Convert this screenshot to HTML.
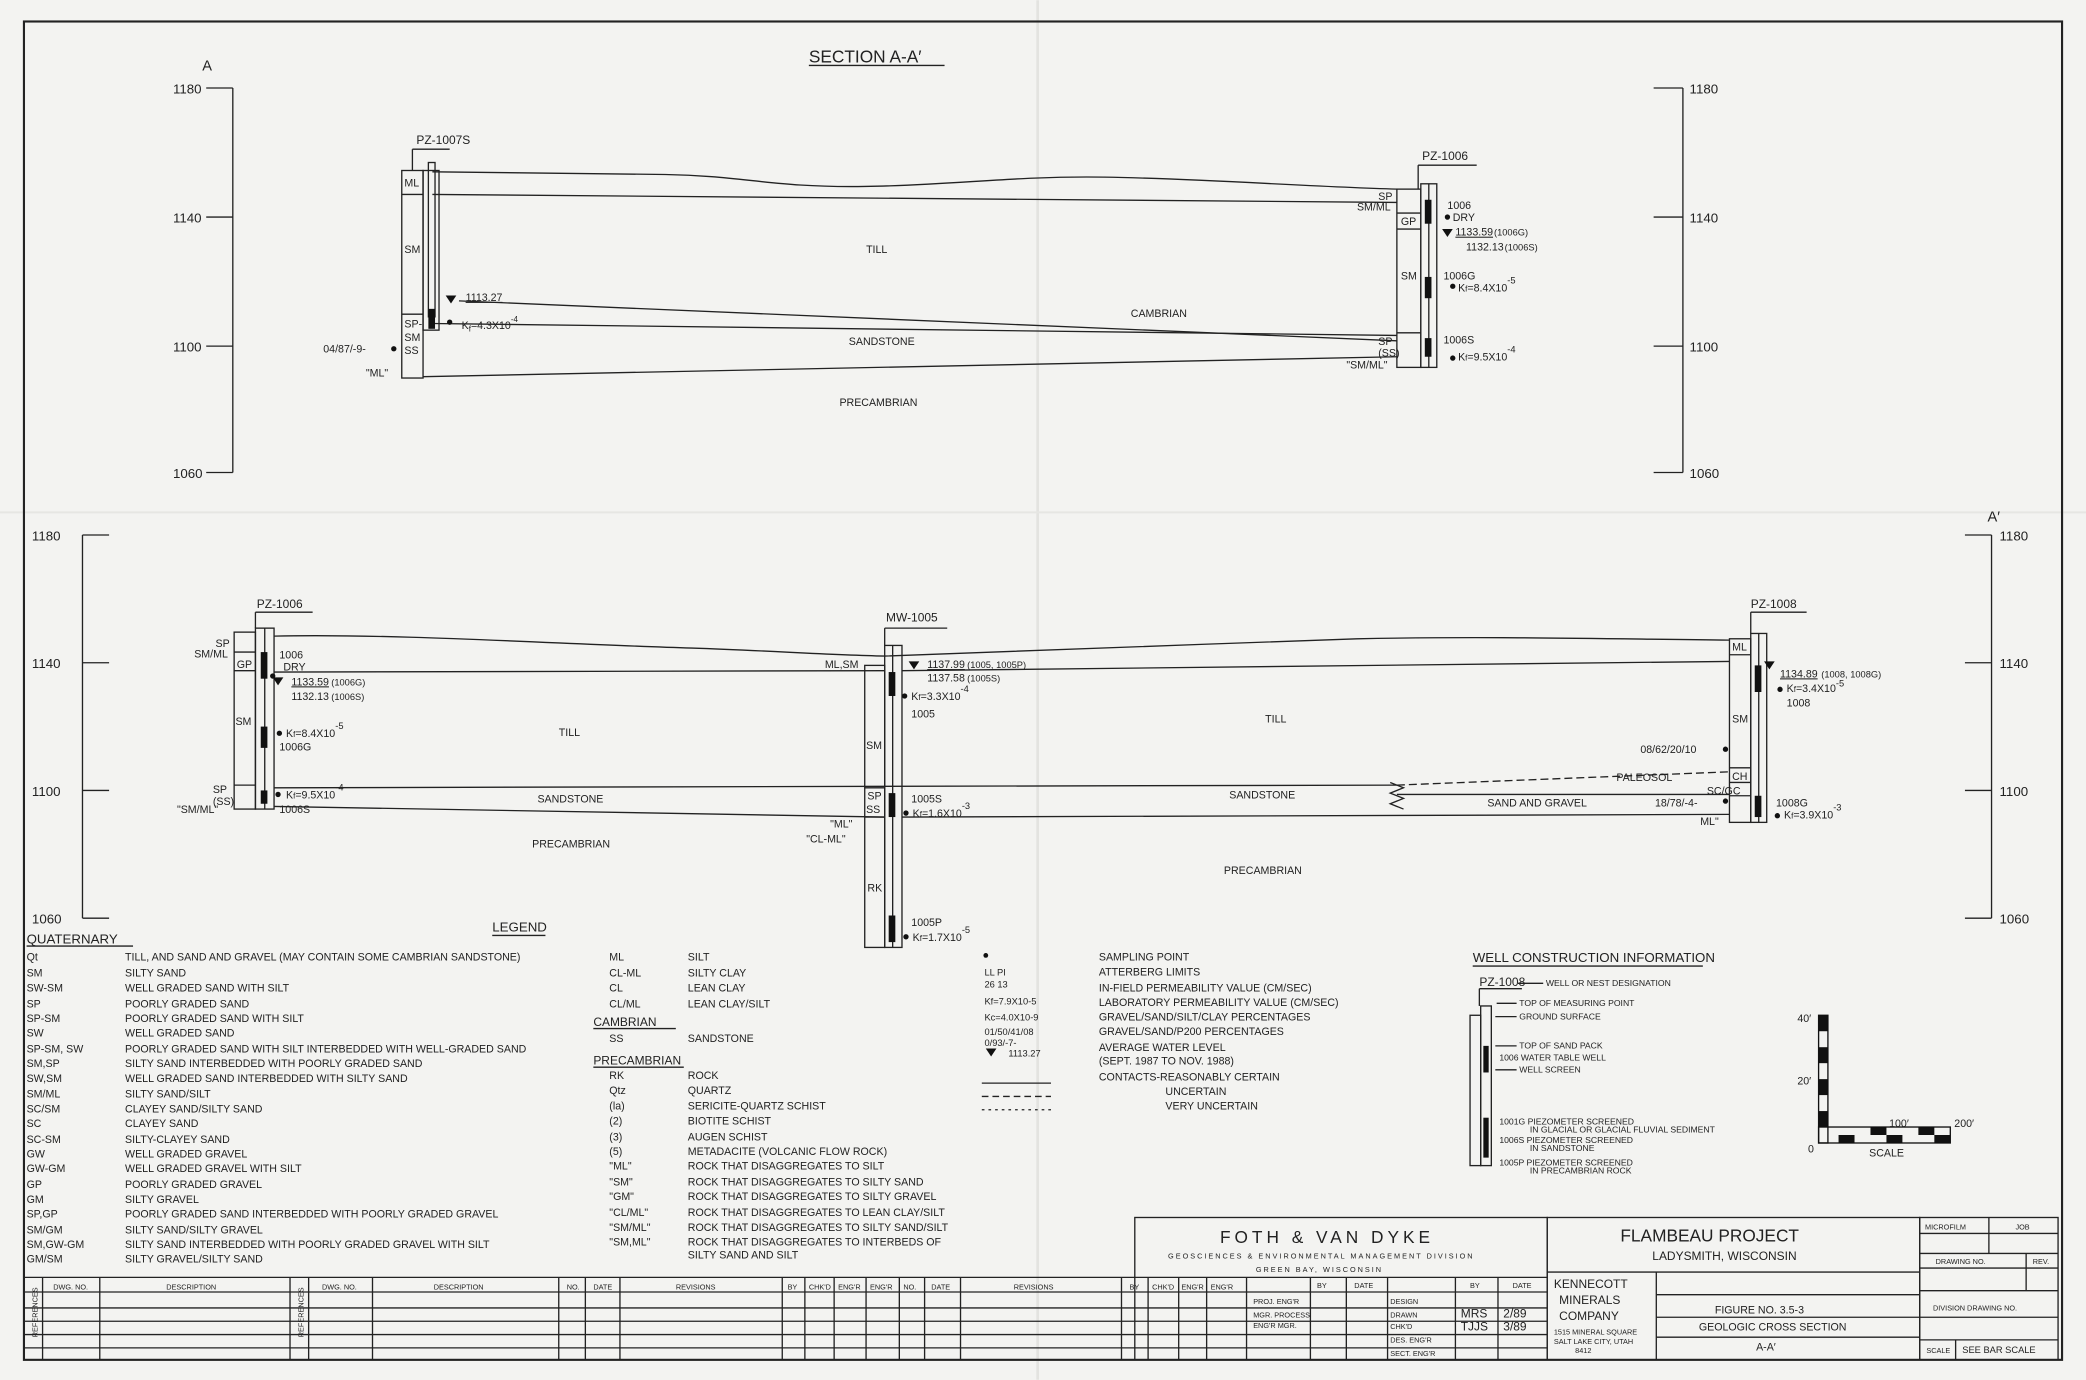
<!DOCTYPE html>
<html><head><meta charset="utf-8"><style>
html,body{margin:0;padding:0;background:#f3f3f1;}
svg{display:block}
text{font-family:"Liberation Sans",sans-serif;fill:#222;}
</style></head><body>
<svg width="2086" height="1380" viewBox="0 0 1568 1037" xmlns="http://www.w3.org/2000/svg">
<rect width="1568" height="1037" fill="#f3f3f1"/>
<line x1="780" y1="0" x2="780" y2="1037" stroke="#e3e3e0" stroke-width="2"/>
<line x1="0" y1="385" x2="1568" y2="385" stroke="#e6e6e3" stroke-width="1.5"/>
<rect x="18" y="16" width="1532" height="1006" fill="none" stroke="#222" stroke-width="1.6"/>
<g stroke="#222" stroke-width="1" fill="none">
<line x1="175" y1="66" x2="175" y2="355"/>
<line x1="155" y1="66" x2="175" y2="66"/><line x1="155" y1="163" x2="175" y2="163"/><line x1="155" y1="260" x2="175" y2="260"/><line x1="155" y1="355" x2="175" y2="355"/>
<line x1="1265" y1="66" x2="1265" y2="355"/>
<line x1="1243" y1="66" x2="1265" y2="66"/><line x1="1243" y1="163" x2="1265" y2="163"/><line x1="1243" y1="260" x2="1265" y2="260"/><line x1="1243" y1="355" x2="1265" y2="355"/>
<line x1="62" y1="402" x2="62" y2="690"/>
<line x1="62" y1="402" x2="82" y2="402"/><line x1="62" y1="498" x2="82" y2="498"/><line x1="62" y1="594" x2="82" y2="594"/><line x1="62" y1="690" x2="82" y2="690"/>
<line x1="1497" y1="402" x2="1497" y2="690"/>
<line x1="1477" y1="402" x2="1497" y2="402"/><line x1="1477" y1="498" x2="1497" y2="498"/><line x1="1477" y1="594" x2="1497" y2="594"/><line x1="1477" y1="690" x2="1497" y2="690"/>
<path d="M325 129 L500 131 C560 132 580 141 650 140 C720 139 760 132 830 133 C900 134 980 140 1050 142"/>
<line x1="325" y1="146" x2="1050" y2="152"/>
<line x1="345" y1="226" x2="1050" y2="256"/>
<line x1="325" y1="243" x2="1050" y2="252"/>
<line x1="318" y1="283" x2="1050" y2="268"/>
<rect x="302" y="128" width="16" height="156"/>
<line x1="302" y1="146" x2="318" y2="146"/><line x1="302" y1="236" x2="318" y2="236"/>
<rect x="318" y="128" width="12" height="120"/>
<rect x="322" y="122" width="5" height="116"/>
<line x1="310" y1="112" x2="310" y2="128"/><line x1="310" y1="112" x2="338" y2="112"/>
<rect x="1050" y="142" width="18" height="134"/>
<line x1="1050" y1="160" x2="1068" y2="160"/><line x1="1050" y1="172" x2="1068" y2="172"/><line x1="1050" y1="250" x2="1068" y2="250"/>
<rect x="1068" y="138" width="12" height="138"/>
<line x1="1074" y1="138" x2="1074" y2="276"/>
<line x1="1066" y1="124" x2="1110" y2="124"/><line x1="1066" y1="124" x2="1066" y2="142"/>
<path d="M206 478 C300 476 420 484 520 487 C580 489 620 492 665 493 C760 490 900 484 1020 480 C1120 478 1200 480 1300 481"/>
<line x1="206" y1="505" x2="665" y2="504"/>
<line x1="678" y1="504" x2="1300" y2="497"/>
<line x1="206" y1="592" x2="1050" y2="590"/>
<path d="M1050 590 L1300 580" stroke-dasharray="6 3"/>
<line x1="1050" y1="597" x2="1300" y2="597"/>
<line x1="206" y1="606" x2="665" y2="614"/>
<line x1="678" y1="614" x2="1300" y2="612"/>
<rect x="176" y="475" width="16" height="133"/>
<line x1="176" y1="490" x2="192" y2="490"/><line x1="176" y1="504" x2="192" y2="504"/><line x1="176" y1="590" x2="192" y2="590"/>
<rect x="192" y="472" width="14" height="136"/>
<line x1="199" y1="472" x2="199" y2="608"/>
<line x1="192" y1="460" x2="235" y2="460"/><line x1="192" y1="460" x2="192" y2="472"/>
<rect x="650" y="500" width="15" height="212"/>
<line x1="650" y1="592" x2="665" y2="592"/><line x1="650" y1="614" x2="665" y2="614"/>
<rect x="665" y="485" width="13" height="227"/>
<line x1="671" y1="485" x2="671" y2="712"/>
<line x1="665" y1="472" x2="712" y2="472"/><line x1="665" y1="472" x2="665" y2="485"/>
<rect x="1300" y="480" width="16" height="138"/>
<line x1="1300" y1="492" x2="1316" y2="492"/><line x1="1300" y1="577" x2="1316" y2="577"/><line x1="1300" y1="588" x2="1316" y2="588"/><line x1="1300" y1="598" x2="1316" y2="598"/>
<rect x="1316" y="476" width="12" height="142"/>
<line x1="1322" y1="476" x2="1322" y2="618"/>
<line x1="1316" y1="460" x2="1358" y2="460"/><line x1="1316" y1="460" x2="1316" y2="476"/>
<path d="M1045 588 l10 4 l-10 4 l10 4 l-10 4 l10 4" />
<line x1="20" y1="711" x2="100" y2="711"/><line x1="370" y1="703" x2="410" y2="703"/>
<line x1="446" y1="773" x2="508" y2="773"/><line x1="446" y1="802" x2="514" y2="802"/>
<line x1="738" y1="814" x2="790" y2="814"/><line x1="738" y1="824" x2="790" y2="824" stroke-dasharray="5 3"/><line x1="738" y1="834" x2="790" y2="834" stroke-dasharray="2 3"/>
<line x1="1107" y1="726" x2="1280" y2="726"/>
<line x1="608" y1="49" x2="710" y2="49"/>
<line x1="1112" y1="743" x2="1144" y2="743"/>
<line x1="1112" y1="743" x2="1112" y2="756"/>
<rect x="1105" y="763" width="8" height="113"/><rect x="1113" y="756" width="8" height="120"/>
<line x1="1141" y1="739" x2="1160" y2="739"/><line x1="1125" y1="754" x2="1140" y2="754"/><line x1="1124" y1="764" x2="1140" y2="764"/><line x1="1124" y1="786" x2="1140" y2="786"/><line x1="1124" y1="804" x2="1140" y2="804"/>
<rect x="853" y="915" width="310" height="107"/>
<line x1="853" y1="960" x2="1163" y2="960"/>
<rect x="1163" y="915" width="280" height="107"/>
<line x1="1163" y1="956" x2="1443" y2="956"/>
<line x1="1245" y1="956" x2="1245" y2="1022"/>
<line x1="1245" y1="973" x2="1443" y2="973"/><line x1="1245" y1="990" x2="1443" y2="990"/><line x1="1245" y1="1005" x2="1443" y2="1005"/>
<rect x="1443" y="915" width="104" height="107"/>
<line x1="1443" y1="927" x2="1547" y2="927"/><line x1="1495" y1="915" x2="1495" y2="942"/>
<line x1="1443" y1="942" x2="1547" y2="942"/><line x1="1443" y1="953" x2="1547" y2="953"/><line x1="1523" y1="942" x2="1523" y2="970"/>
<line x1="1443" y1="970" x2="1547" y2="970"/><line x1="1443" y1="990" x2="1547" y2="990"/><line x1="1443" y1="1007" x2="1547" y2="1007"/><line x1="1470" y1="1007" x2="1470" y2="1022"/>
<line x1="18" y1="960" x2="853" y2="960"/>
<line x1="18" y1="971" x2="1163" y2="971"/>
<line x1="18" y1="983" x2="1163" y2="983"/><line x1="18" y1="993" x2="1163" y2="993"/><line x1="18" y1="1003" x2="1163" y2="1003"/><line x1="18" y1="1013" x2="1163" y2="1013"/>
<g>
<line x1="32" y1="960" x2="32" y2="1022"/><line x1="75" y1="960" x2="75" y2="1022"/><line x1="218" y1="960" x2="218" y2="1022"/>
<line x1="232" y1="960" x2="232" y2="1022"/><line x1="280" y1="960" x2="280" y2="1022"/><line x1="420" y1="960" x2="420" y2="1022"/>
<line x1="440" y1="960" x2="440" y2="1022"/><line x1="466" y1="960" x2="466" y2="1022"/><line x1="588" y1="960" x2="588" y2="1022"/>
<line x1="605" y1="960" x2="605" y2="1022"/><line x1="627" y1="960" x2="627" y2="1022"/><line x1="651" y1="960" x2="651" y2="1022"/>
<line x1="676" y1="960" x2="676" y2="1022"/><line x1="695" y1="960" x2="695" y2="1022"/><line x1="722" y1="960" x2="722" y2="1022"/>
<line x1="843" y1="960" x2="843" y2="1022"/><line x1="863" y1="960" x2="863" y2="1022"/><line x1="886" y1="960" x2="886" y2="1022"/><line x1="907" y1="960" x2="907" y2="1022"/><line x1="937" y1="960" x2="937" y2="1022"/>
<line x1="985" y1="960" x2="985" y2="1022"/><line x1="1012" y1="960" x2="1012" y2="1022"/><line x1="1043" y1="960" x2="1043" y2="1022"/><line x1="1094" y1="960" x2="1094" y2="1022"/><line x1="1126" y1="960" x2="1126" y2="1022"/>
</g>
</g>
<g fill="#111">
<rect x="322" y="232" width="5" height="15"/>
<rect x="1071" y="150" width="5" height="18"/><rect x="1071" y="208" width="5" height="16"/><rect x="1071" y="254" width="5" height="14"/>
<rect x="196" y="490" width="5" height="20"/><rect x="196" y="546" width="5" height="16"/><rect x="196" y="594" width="5" height="10"/>
<rect x="668" y="505" width="5" height="18"/><rect x="668" y="596" width="5" height="18"/><rect x="668" y="688" width="5" height="20"/>
<rect x="1319" y="500" width="5" height="20"/><rect x="1319" y="598" width="5" height="16"/>
<rect x="1115" y="786" width="4" height="20"/><rect x="1115" y="840" width="4" height="30"/>
<rect x="1367" y="763" width="7" height="12"/><rect x="1367" y="787" width="7" height="12"/><rect x="1367" y="811" width="7" height="12"/><rect x="1367" y="835" width="7" height="12"/>
<rect x="1382" y="853" width="12" height="6"/><rect x="1406" y="847" width="12" height="6"/><rect x="1418" y="853" width="12" height="6"/><rect x="1442" y="847" width="12" height="6"/><rect x="1454" y="853" width="12" height="6"/>
<circle cx="296" cy="262" r="2"/><circle cx="338" cy="242" r="2"/><circle cx="1088" cy="163" r="2"/><circle cx="1092" cy="215" r="2"/><circle cx="1092" cy="269" r="2"/>
<circle cx="205" cy="508" r="2"/><circle cx="210" cy="551" r="2"/><circle cx="209" cy="597" r="2"/><circle cx="680" cy="523" r="2"/><circle cx="681" cy="611" r="2"/><circle cx="681" cy="704" r="2"/>
<circle cx="1297" cy="563" r="2"/><circle cx="1338" cy="518" r="2"/><circle cx="1336" cy="613" r="2"/><circle cx="1297" cy="602" r="2"/>
<circle cx="741" cy="718" r="1.8"/>
</g>
<rect x="1367" y="763" width="7" height="96" fill="none" stroke="#111"/><rect x="1367" y="847" width="99" height="12" fill="none" stroke="#111"/>
<g fill="#111"><path d="M335 222 h8 l-4 6z"/><path d="M1084 172 h8 l-4 6z"/><path d="M205 509 h8 l-4 6z"/><path d="M683 497 h8 l-4 6z"/><path d="M1326 497 h8 l-4 6z"/><path d="M741 788 h8 l-4 6z"/></g>

<g font-size="10">
<text x="608" y="47" font-size="13">SECTION A-A′</text>
<text x="152" y="53" font-size="11">A</text><text x="1494" y="392" font-size="11">A′</text>
<text x="130" y="70">1180</text><text x="130" y="167">1140</text><text x="130" y="264">1100</text><text x="130" y="359">1060</text>
<text x="1270" y="70">1180</text><text x="1270" y="167">1140</text><text x="1270" y="264">1100</text><text x="1270" y="359">1060</text>
<text x="24" y="406">1180</text><text x="24" y="502">1140</text><text x="24" y="598">1100</text><text x="24" y="694">1060</text>
<text x="1503" y="406">1180</text><text x="1503" y="502">1140</text><text x="1503" y="598">1100</text><text x="1503" y="694">1060</text>
</g>
<g font-size="9">
<text x="313" y="108">PZ-1007S</text>
<text x="304" y="140" font-size="8">ML</text><text x="304" y="190" font-size="8">SM</text><text x="304" y="246" font-size="8">SP-</text><text x="304" y="256" font-size="8">SM</text><text x="304" y="266" font-size="8">SS</text>
<text x="243" y="265" font-size="8">04/87/-9-</text><text x="275" y="283" font-size="8">"ML"</text>
<text x="350" y="226" font-size="8" text-decoration="underline">1113.27</text><text x="347" y="247" font-size="8">K<tspan font-size="6" dy="2">f</tspan><tspan dy="-2">=4.3X10</tspan><tspan dy="-5" font-size="6">-4</tspan></text>
<text x="1069" y="120">PZ-1006</text>
<text x="1036" y="150" font-size="8">SP</text><text x="1020" y="158" font-size="8">SM/ML</text><text x="1053" y="169" font-size="8">GP</text><text x="1053" y="210" font-size="8">SM</text><text x="1036" y="259" font-size="8">SP</text><text x="1036" y="268" font-size="8">(SS)</text><text x="1012" y="277" font-size="8">"SM/ML"</text>
<text x="1088" y="157" font-size="8">1006</text><text x="1092" y="166" font-size="8">DRY</text>
<text x="1094" y="177" font-size="8" text-decoration="underline">1133.59</text><text x="1123" y="177" font-size="7">(1006G)</text>
<text x="1102" y="188" font-size="8">1132.13</text><text x="1131" y="188" font-size="7">(1006S)</text>
<text x="1085" y="210" font-size="8">1006G</text><text x="1096" y="219" font-size="8">K<tspan font-size="6">f</tspan>=8.4X10<tspan dy="-6" font-size="7">-5</tspan></text>
<text x="1085" y="258" font-size="8">1006S</text><text x="1096" y="271" font-size="8">K<tspan font-size="6">f</tspan>=9.5X10<tspan dy="-6" font-size="7">-4</tspan></text>
<text x="651" y="190" font-size="8">TILL</text><text x="850" y="238" font-size="8">CAMBRIAN</text><text x="638" y="259" font-size="8">SANDSTONE</text><text x="631" y="305" font-size="8">PRECAMBRIAN</text>

<text x="193" y="457">PZ-1006</text>
<text x="162" y="486" font-size="8">SP</text><text x="146" y="494" font-size="8">SM/ML</text><text x="178" y="502" font-size="8">GP</text><text x="177" y="545" font-size="8">SM</text><text x="160" y="596" font-size="8">SP</text><text x="160" y="605" font-size="8">(SS)</text><text x="133" y="611" font-size="8">"SM/ML"</text>
<text x="210" y="495" font-size="8">1006</text><text x="213" y="504" font-size="8">DRY</text>
<text x="219" y="515" font-size="8" text-decoration="underline">1133.59</text><text x="249" y="515" font-size="7">(1006G)</text>
<text x="219" y="526" font-size="8">1132.13</text><text x="249" y="526" font-size="7">(1006S)</text>
<text x="215" y="554" font-size="8">K<tspan font-size="6">f</tspan>=8.4X10<tspan dy="-6" font-size="7">-5</tspan></text><text x="210" y="564" font-size="8">1006G</text>
<text x="215" y="600" font-size="8">K<tspan font-size="6">f</tspan>=9.5X10<tspan dy="-6" font-size="7">-4</tspan></text><text x="210" y="611" font-size="8">1006S</text>
<text x="666" y="467">MW-1005</text>
<text x="620" y="502" font-size="8">ML,SM</text><text x="651" y="563" font-size="8">SM</text><text x="652" y="601" font-size="8">SP</text><text x="651" y="611" font-size="8">SS</text><text x="624" y="622" font-size="8">"ML"</text><text x="606" y="633" font-size="8">"CL-ML"</text><text x="652" y="670" font-size="8">RK</text>
<text x="697" y="502" font-size="8" text-decoration="underline">1137.99</text><text x="727" y="502" font-size="7">(1005, 1005P)</text>
<text x="697" y="512" font-size="8">1137.58</text><text x="727" y="512" font-size="7">(1005S)</text>
<text x="685" y="526" font-size="8">K<tspan font-size="6">f</tspan>=3.3X10<tspan dy="-6" font-size="7">-4</tspan></text><text x="685" y="539" font-size="8">1005</text>
<text x="685" y="603" font-size="8">1005S</text><text x="686" y="614" font-size="8">K<tspan font-size="6">f</tspan>=1.6X10<tspan dy="-6" font-size="7">-3</tspan></text>
<text x="685" y="696" font-size="8">1005P</text><text x="686" y="707" font-size="8">K<tspan font-size="6">f</tspan>=1.7X10<tspan dy="-6" font-size="7">-5</tspan></text>
<text x="1316" y="457">PZ-1008</text>
<text x="1302" y="489" font-size="8">ML</text><text x="1302" y="543" font-size="8">SM</text><text x="1302" y="586" font-size="8">CH</text><text x="1283" y="597" font-size="8">SC/GC</text><text x="1244" y="606" font-size="8">18/78/-4-</text><text x="1278" y="620" font-size="8">ML"</text>
<text x="1233" y="566" font-size="8">08/62/20/10</text><text x="1215" y="587" font-size="8">PALEOSOL</text>
<text x="1338" y="509" font-size="8" text-decoration="underline">1134.89</text><text x="1369" y="509" font-size="7">(1008, 1008G)</text>
<text x="1343" y="520" font-size="8">K<tspan font-size="6">f</tspan>=3.4X10<tspan dy="-4" font-size="7">-5</tspan></text><text x="1343" y="531" font-size="8">1008</text>
<text x="1335" y="606" font-size="8">1008G</text><text x="1341" y="615" font-size="8">K<tspan font-size="6">f</tspan>=3.9X10<tspan dy="-6" font-size="7">-3</tspan></text>
<text x="420" y="553" font-size="8">TILL</text><text x="951" y="543" font-size="8">TILL</text>
<text x="404" y="603" font-size="8">SANDSTONE</text><text x="924" y="600" font-size="8">SANDSTONE</text><text x="1118" y="606" font-size="8">SAND AND GRAVEL</text>
<text x="400" y="637" font-size="8">PRECAMBRIAN</text><text x="920" y="657" font-size="8">PRECAMBRIAN</text>
</g>
<g font-size="8">
<text x="370" y="700" font-size="10">LEGEND</text>
<text x="20" y="709" font-size="10">QUATERNARY</text>
<text x="20" y="722">Qt</text><text x="94" y="722">TILL, AND SAND AND GRAVEL (MAY CONTAIN SOME CAMBRIAN SANDSTONE)</text>
<text x="20" y="734">SM</text><text x="94" y="734">SILTY SAND</text>
<text x="20" y="745">SW-SM</text><text x="94" y="745">WELL GRADED SAND WITH SILT</text>
<text x="20" y="757">SP</text><text x="94" y="757">POORLY GRADED SAND</text>
<text x="20" y="768">SP-SM</text><text x="94" y="768">POORLY GRADED SAND WITH SILT</text>
<text x="20" y="779">SW</text><text x="94" y="779">WELL GRADED SAND</text>
<text x="20" y="791">SP-SM, SW</text><text x="94" y="791">POORLY GRADED SAND WITH SILT INTERBEDDED WITH WELL-GRADED SAND</text>
<text x="20" y="802">SM,SP</text><text x="94" y="802">SILTY SAND INTERBEDDED WITH POORLY GRADED SAND</text>
<text x="20" y="813">SW,SM</text><text x="94" y="813">WELL GRADED SAND INTERBEDDED WITH SILTY SAND</text>
<text x="20" y="825">SM/ML</text><text x="94" y="825">SILTY SAND/SILT</text>
<text x="20" y="836">SC/SM</text><text x="94" y="836">CLAYEY SAND/SILTY SAND</text>
<text x="20" y="847">SC</text><text x="94" y="847">CLAYEY SAND</text>
<text x="20" y="859">SC-SM</text><text x="94" y="859">SILTY-CLAYEY SAND</text>
<text x="20" y="870">GW</text><text x="94" y="870">WELL GRADED GRAVEL</text>
<text x="20" y="881">GW-GM</text><text x="94" y="881">WELL GRADED GRAVEL WITH SILT</text>
<text x="20" y="893">GP</text><text x="94" y="893">POORLY GRADED GRAVEL</text>
<text x="20" y="904">GM</text><text x="94" y="904">SILTY GRAVEL</text>
<text x="20" y="915">SP,GP</text><text x="94" y="915">POORLY GRADED SAND INTERBEDDED WITH POORLY GRADED GRAVEL</text>
<text x="20" y="927">SM/GM</text><text x="94" y="927">SILTY SAND/SILTY GRAVEL</text>
<text x="20" y="938">SM,GW-GM</text><text x="94" y="938">SILTY SAND INTERBEDDED WITH POORLY GRADED GRAVEL WITH SILT</text>
<text x="20" y="949">GM/SM</text><text x="94" y="949">SILTY GRAVEL/SILTY SAND</text>
<text x="458" y="722">ML</text><text x="517" y="722">SILT</text>
<text x="458" y="734">CL-ML</text><text x="517" y="734">SILTY CLAY</text>
<text x="458" y="745">CL</text><text x="517" y="745">LEAN CLAY</text>
<text x="458" y="757">CL/ML</text><text x="517" y="757">LEAN CLAY/SILT</text>
<text x="446" y="771" font-size="9">CAMBRIAN</text>
<text x="458" y="783">SS</text><text x="517" y="783">SANDSTONE</text>
<text x="446" y="800" font-size="9">PRECAMBRIAN</text>
<text x="458" y="811">RK</text><text x="517" y="811">ROCK</text>
<text x="458" y="822">Qtz</text><text x="517" y="822">QUARTZ</text>
<text x="458" y="834">(la)</text><text x="517" y="834">SERICITE-QUARTZ SCHIST</text>
<text x="458" y="845">(2)</text><text x="517" y="845">BIOTITE SCHIST</text>
<text x="458" y="857">(3)</text><text x="517" y="857">AUGEN SCHIST</text>
<text x="458" y="868">(5)</text><text x="517" y="868">METADACITE (VOLCANIC FLOW ROCK)</text>
<text x="458" y="879">"ML"</text><text x="517" y="879">ROCK THAT DISAGGREGATES TO SILT</text>
<text x="458" y="891">"SM"</text><text x="517" y="891">ROCK THAT DISAGGREGATES TO SILTY SAND</text>
<text x="458" y="902">"GM"</text><text x="517" y="902">ROCK THAT DISAGGREGATES TO SILTY GRAVEL</text>
<text x="458" y="914">"CL/ML"</text><text x="517" y="914">ROCK THAT DISAGGREGATES TO LEAN CLAY/SILT</text>
<text x="458" y="925">"SM/ML"</text><text x="517" y="925">ROCK THAT DISAGGREGATES TO SILTY SAND/SILT</text>
<text x="458" y="936">"SM,ML"</text><text x="517" y="936">ROCK THAT DISAGGREGATES TO INTERBEDS OF</text>
<text x="517" y="946">SILTY SAND AND SILT</text>
<text x="740" y="733" font-size="7">LL  PI</text><text x="740" y="742" font-size="7">26  13</text>
<text x="740" y="755" font-size="7">Kf=7.9X10-5</text><text x="740" y="767" font-size="7">Kc=4.0X10-9</text>
<text x="740" y="778" font-size="7">01/50/41/08</text><text x="740" y="786" font-size="7">0/93/-7-</text><text x="758" y="794" font-size="7">1113.27</text>
<text x="826" y="722">SAMPLING POINT</text><text x="826" y="733">ATTERBERG LIMITS</text>
<text x="826" y="745">IN-FIELD PERMEABILITY VALUE (CM/SEC)</text><text x="826" y="756">LABORATORY PERMEABILITY VALUE (CM/SEC)</text>
<text x="826" y="767">GRAVEL/SAND/SILT/CLAY PERCENTAGES</text><text x="826" y="778">GRAVEL/SAND/P200 PERCENTAGES</text>
<text x="826" y="790">AVERAGE WATER LEVEL</text><text x="826" y="800">(SEPT. 1987 TO NOV. 1988)</text>
<text x="826" y="812">CONTACTS-REASONABLY CERTAIN</text><text x="876" y="823">UNCERTAIN</text><text x="876" y="834">VERY UNCERTAIN</text>
<text x="1107" y="723" font-size="10">WELL CONSTRUCTION INFORMATION</text>
<text x="1112" y="741" font-size="9">PZ-1008</text>
<g font-size="6.5"><text x="1162" y="741">WELL OR NEST DESIGNATION</text><text x="1142" y="756">TOP OF MEASURING POINT</text><text x="1142" y="766">GROUND SURFACE</text><text x="1142" y="788">TOP OF SAND PACK</text><text x="1127" y="797">1006  WATER TABLE WELL</text><text x="1142" y="806">WELL SCREEN</text>
<text x="1127" y="845">1001G  PIEZOMETER SCREENED</text><text x="1150" y="851">IN GLACIAL OR GLACIAL FLUVIAL SEDIMENT</text>
<text x="1127" y="859">1006S  PIEZOMETER SCREENED</text><text x="1150" y="865">IN SANDSTONE</text>
<text x="1127" y="876">1005P  PIEZOMETER SCREENED</text><text x="1150" y="882">IN PRECAMBRIAN ROCK</text></g>
<text x="1351" y="768">40′</text><text x="1351" y="815">20′</text><text x="1359" y="866">0</text><text x="1420" y="847">100′</text><text x="1469" y="847">200′</text><text x="1405" y="869">SCALE</text>
</g>
<text x="917" y="934" font-size="13" letter-spacing="3">FOTH &amp; VAN DYKE</text>
<text x="878" y="946" font-size="5.5" letter-spacing="1.5">GEOSCIENCES &amp; ENVIRONMENTAL MANAGEMENT DIVISION</text>
<text x="944" y="956" font-size="5.5" letter-spacing="1.5">GREEN BAY, WISCONSIN</text>
<text x="1218" y="933" font-size="13">FLAMBEAU PROJECT</text>
<text x="1242" y="947" font-size="9">LADYSMITH, WISCONSIN</text>
<text x="1168" y="968" font-size="9">KENNECOTT</text><text x="1172" y="980" font-size="9">MINERALS</text><text x="1172" y="992" font-size="9">COMPANY</text>
<g font-size="5.5"><text x="1168" y="1003">1515 MINERAL SQUARE</text><text x="1168" y="1010">SALT LAKE CITY, UTAH</text><text x="1184" y="1017">8412</text>
<text x="1447" y="924">MICROFILM</text><text x="1515" y="924">JOB</text><text x="1455" y="950">DRAWING NO.</text><text x="1528" y="950">REV.</text><text x="1453" y="985">DIVISION DRAWING NO.</text>
<text x="1448" y="1017">SCALE</text><text x="1475" y="1017" font-size="7">SEE BAR SCALE</text>
<text x="942" y="980">PROJ. ENG'R</text><text x="942" y="990">MGR. PROCESS</text><text x="942" y="998">ENG'R MGR.</text>
<text x="1045" y="980">DESIGN</text><text x="1045" y="990">DRAWN</text><text x="1045" y="999">CHK'D</text><text x="1045" y="1009">DES. ENG'R</text><text x="1045" y="1019">SECT. ENG'R</text>
<text x="990" y="968">BY</text><text x="1018" y="968">DATE</text><text x="1105" y="968">BY</text><text x="1137" y="968">DATE</text>
<text x="40" y="969">DWG. NO.</text><text x="125" y="969">DESCRIPTION</text><text x="242" y="969">DWG. NO.</text><text x="326" y="969">DESCRIPTION</text>
<text x="426" y="969">NO.</text><text x="446" y="969">DATE</text><text x="508" y="969">REVISIONS</text><text x="592" y="969">BY</text><text x="608" y="969">CHK'D</text><text x="630" y="969">ENG'R</text><text x="654" y="969">ENG'R</text>
<text x="679" y="969">NO.</text><text x="700" y="969">DATE</text><text x="762" y="969">REVISIONS</text><text x="849" y="969">BY</text><text x="866" y="969">CHK'D</text><text x="888" y="969">ENG'R</text><text x="910" y="969">ENG'R</text>
</g>
<text x="1098" y="990" font-size="9">MRS</text><text x="1130" y="990" font-size="9">2/89</text>
<text x="1098" y="1000" font-size="9">TJJS</text><text x="1130" y="1000" font-size="9">3/89</text>
<text x="1289" y="987" font-size="8">FIGURE NO. 3.5-3</text><text x="1277" y="1000" font-size="8">GEOLOGIC CROSS SECTION</text><text x="1320" y="1015" font-size="8">A-A′</text>
<text transform="translate(28 1005) rotate(-90)" font-size="5.5">REFERENCES</text>
<text transform="translate(228 1005) rotate(-90)" font-size="5.5">REFERENCES</text>
</svg>
</body></html>
